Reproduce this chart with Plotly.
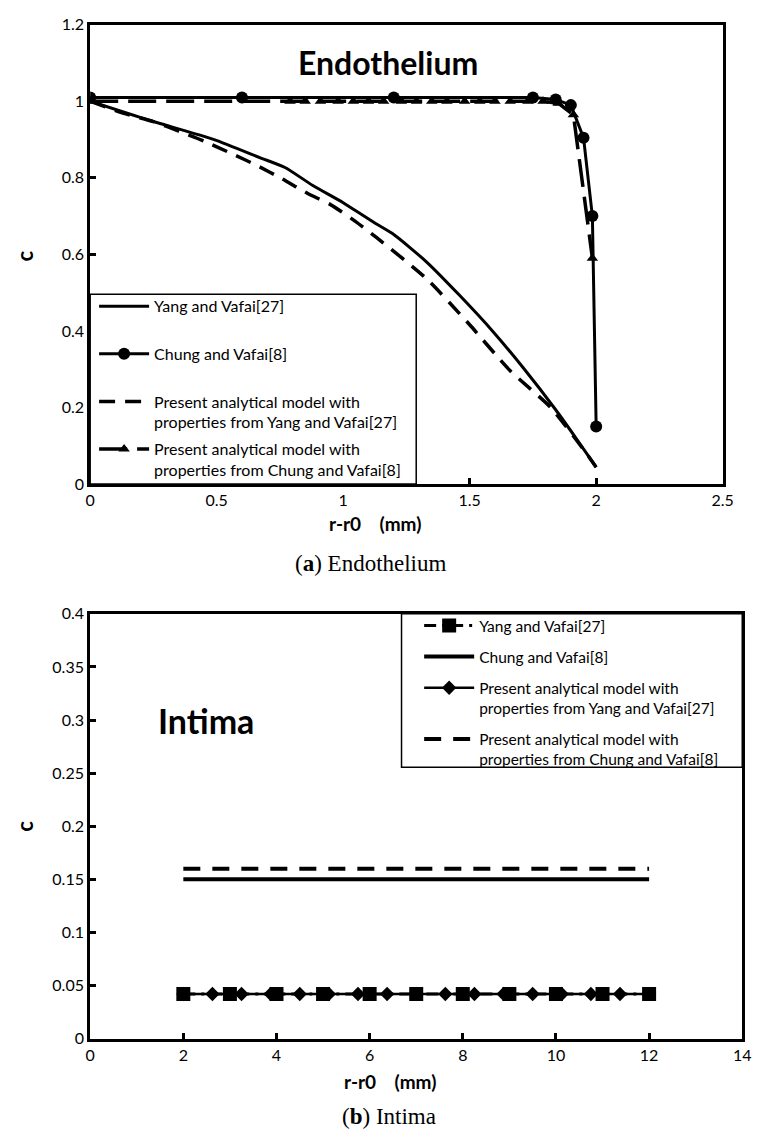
import plotly.graph_objects as go

W, H = 765, 1144

# ---------------- Panel (a) Endothelium ----------------
yang_x = [0, 0.23, 0.49, 0.67, 0.77, 0.88, 1.0, 1.13, 1.2, 1.33, 1.46, 1.59, 1.71, 1.84, 1.92, 2.0]
yang_c = [1.0, 0.951, 0.90, 0.853, 0.827, 0.78, 0.735, 0.68, 0.652, 0.58, 0.493, 0.40, 0.305, 0.194, 0.12, 0.044]

chung_x = [0, 0.6, 1.2, 1.75, 1.84, 1.9, 1.95, 1.985, 2.0]
chung_c = [1.01, 1.01, 1.01, 1.01, 1.005, 0.99, 0.905, 0.70, 0.15]

pres_yang_x = [0, 0.13, 0.25, 0.35, 0.45, 0.55, 0.66, 0.76, 0.86, 0.95, 1.04, 1.13, 1.33, 1.5, 1.66, 1.82, 1.95, 2.0]
pres_yang_c = [1.0, 0.969, 0.947, 0.922, 0.896, 0.866, 0.832, 0.797, 0.759, 0.73, 0.69, 0.645, 0.536, 0.416, 0.296, 0.2, 0.09, 0.044]

pres_chung_x = [0, 0.79, 0.85, 0.91, 0.98, 1.04, 1.10, 1.16, 1.23, 1.29, 1.35, 1.41, 1.48,
                1.54, 1.60, 1.66, 1.73, 1.79, 1.85, 1.91, 1.985]
pres_chung_c = [1.0, 1.0, 1.0, 1.0, 1.0, 1.0, 1.0, 1.0, 1.0, 1.0, 1.0, 1.0, 1.0,
                1.0, 1.0, 1.0, 1.0, 1.0, 0.995, 0.965, 0.59]

a_xticks = [0, 0.5, 1, 1.5, 2, 2.5]
a_yticks = [0, 0.2, 0.4, 0.6, 0.8, 1.0, 1.2]

# ---------------- Panel (b) Intima ----------------
b_yang_x = [2, 3, 4, 5, 6, 7, 8, 9, 10, 11, 12]
b_yang_c = [0.042, 0.042, 0.042, 0.042, 0.042, 0.042, 0.042, 0.042, 0.042, 0.042, 0.042]

b_chung_x = [2, 12]
b_chung_c = [0.15, 0.15]

b_pres_yang_x = [2, 2.625, 3.25, 3.875, 4.5, 5.125, 5.75, 6.375, 7.0, 7.625, 8.25,
                 8.875, 9.5, 10.125, 10.75, 11.375, 12]
b_pres_yang_c = [0.042, 0.042, 0.042, 0.042, 0.042, 0.042, 0.042, 0.042, 0.042, 0.042, 0.042,
                 0.042, 0.042, 0.042, 0.042, 0.042, 0.042]

b_pres_chung_x = [2, 12]
b_pres_chung_c = [0.16, 0.16]

b_xticks = [0, 2, 4, 6, 8, 10, 12, 14]
b_yticks = [0, 0.05, 0.1, 0.15, 0.2, 0.25, 0.3, 0.35, 0.4]

FONT = "Lato"
SERIF = "Liberation Serif"
BLK = "black"


def px_x(p):
    return p / W


def px_y(p):
    return 1 - p / H


fig = go.Figure()

# Panel a traces
fig.add_trace(go.Scatter(x=yang_x, y=yang_c, mode="lines", name="Yang and Vafai[27]<br> ",
                         line=dict(color=BLK, width=3, shape="spline", smoothing=0.6),
                         xaxis="x", yaxis="y",
                         legend="legend", legendgroup="a1", legendrank=1))
fig.add_trace(go.Scatter(x=pres_yang_x, y=pres_yang_c, mode="lines",
                         name="Present analytical model with<br>properties from Yang and Vafai[27]",
                         line=dict(color=BLK, width=3.5, dash="16px,10px", shape="spline", smoothing=0.6),
                         xaxis="x", yaxis="y",
                         legend="legend", legendgroup="a3", legendrank=3))
fig.add_trace(go.Scatter(x=chung_x, y=chung_c, mode="lines+markers", name="Chung and Vafai[8]<br> ",
                         line=dict(color=BLK, width=3),
                         marker=dict(symbol="circle", size=12, color=BLK),
                         xaxis="x", yaxis="y", legend="legend", legendgroup="a2", legendrank=2))
fig.add_trace(go.Scatter(x=pres_chung_x, y=pres_chung_c, mode="lines+markers",
                         name="Present analytical model with<br>properties from Chung and Vafai[8]",
                         line=dict(color=BLK, width=3.5, dash="28px,10px"),
                         marker=dict(symbol="triangle-up", size=10, color=BLK),
                         xaxis="x", yaxis="y", legend="legend", legendgroup="a4", legendrank=4))

# Panel b traces
fig.add_trace(go.Scatter(x=b_pres_chung_x, y=b_pres_chung_c, mode="lines",
                         name="Present analytical model with<br>properties from Chung and Vafai[8]",
                         line=dict(color=BLK, width=4, dash="17px,12px"), xaxis="x2", yaxis="y2",
                         legend="legend2", legendgroup="b4", legendrank=4))
fig.add_trace(go.Scatter(x=b_chung_x, y=b_chung_c, mode="lines", name="Chung and Vafai[8]",
                         line=dict(color=BLK, width=4), xaxis="x2", yaxis="y2",
                         legend="legend2", legendgroup="b2", legendrank=2))
fig.add_trace(go.Scatter(x=b_pres_yang_x, y=b_pres_yang_c, mode="lines+markers",
                         name="Present analytical model with<br>properties from Yang and Vafai[27]",
                         line=dict(color=BLK, width=2.5),
                         marker=dict(symbol="diamond", size=11, color=BLK),
                         xaxis="x2", yaxis="y2", legend="legend2", legendgroup="b3", legendrank=3))
fig.add_trace(go.Scatter(x=b_yang_x, y=b_yang_c, mode="lines+markers", name="Yang and Vafai[27]",
                         line=dict(color=BLK, width=3, dash="12px,6px,3px,6px"),
                         marker=dict(symbol="square", size=14, color=BLK),
                         xaxis="x2", yaxis="y2", legend="legend2", legendgroup="b1", legendrank=1))

axis_common = dict(showgrid=False, zeroline=False, showline=True, linecolor=BLK, linewidth=3,
                   mirror=True, ticks="inside", ticklen=6, tickwidth=3, tickcolor=BLK,
                   tickfont=dict(family=FONT, size=16, color=BLK))

fig.update_layout(
    width=W, height=H, autosize=False,
    margin=dict(l=0, r=0, t=0, b=0),
    paper_bgcolor="white", plot_bgcolor="white",
    font=dict(family=FONT, color=BLK),
    xaxis=dict(domain=[px_x(87), px_x(733)], range=[0, 2.5], tickvals=a_xticks, anchor="y",
               **axis_common),
    yaxis=dict(domain=[px_y(482), px_y(15)], range=[0, 1.2], tickvals=a_yticks, anchor="x",
               **axis_common),
    xaxis2=dict(domain=[px_x(87), px_x(753)], range=[0, 14], tickvals=b_xticks, anchor="y2",
                **axis_common),
    yaxis2=dict(domain=[px_y(1046), px_y(614)], range=[0, 0.4], tickvals=b_yticks, anchor="x2",
                **axis_common),
    showlegend=True,
    legend=dict(x=px_x(91), y=px_y(284), xanchor="left", yanchor="top",
                bgcolor="rgba(0,0,0,0)", borderwidth=0,
                font=dict(family=FONT, size=16, color=BLK), valign="top",
                tracegroupgap=3, traceorder="grouped", itemwidth=50),
    legend2=dict(x=px_x(423), y=px_y(609), xanchor="left", yanchor="top",
                 bgcolor="rgba(0,0,0,0)", borderwidth=0,
                 font=dict(family=FONT, size=15.5, color=BLK), valign="top",
                 tracegroupgap=8, traceorder="grouped", itemwidth=50),
    shapes=[
        dict(type="rect", xref="paper", yref="paper", x0=px_x(87), x1=px_x(420),
             y0=px_y(482), y1=px_y(289), line=dict(color=BLK, width=1.5),
             fillcolor="white", layer="above"),
        dict(type="rect", xref="paper", yref="paper", x0=px_x(405), x1=px_x(753),
             y0=px_y(770), y1=px_y(614), line=dict(color=BLK, width=1.5),
             fillcolor="white", layer="above"),
    ],
)

common_ann = dict(xref="paper", yref="paper", showarrow=False, xanchor="center", yanchor="middle")
annotations = [
    dict(text="<b>Endothelium</b>", x=px_x(391), y=px_y(53),
         font=dict(family=FONT, size=32, color=BLK), **common_ann),
    dict(text="<b>Intima</b>", x=px_x(205), y=px_y(722),
         font=dict(family=FONT, size=34, color=BLK), **common_ann),
    dict(text="<b>c</b>", x=px_x(20), y=px_y(250), textangle=-90,
         font=dict(family=FONT, size=22, color=BLK), **common_ann),
    dict(text="<b>c</b>", x=px_x(20), y=px_y(830), textangle=-90,
         font=dict(family=FONT, size=22, color=BLK), **common_ann),
    dict(text="<b>r-r0&nbsp;&nbsp;&nbsp;&nbsp;(mm)</b>", x=px_x(378), y=px_y(522),
         font=dict(family=FONT, size=19, color=BLK), **common_ann),
    dict(text="<b>r-r0&nbsp;&nbsp;&nbsp;&nbsp;(mm)</b>", x=px_x(393), y=px_y(1090),
         font=dict(family=FONT, size=19, color=BLK), **common_ann),
    dict(text="(<b>a</b>) Endothelium", x=px_x(374), y=px_y(563),
         font=dict(family=SERIF, size=23, color=BLK), **common_ann),
    dict(text="(<b>b</b>) Intima", x=px_x(392), y=px_y(1125),
         font=dict(family=SERIF, size=23, color=BLK), **common_ann),
]
fig.update_layout(annotations=annotations)

fig.write_html("out.html")
